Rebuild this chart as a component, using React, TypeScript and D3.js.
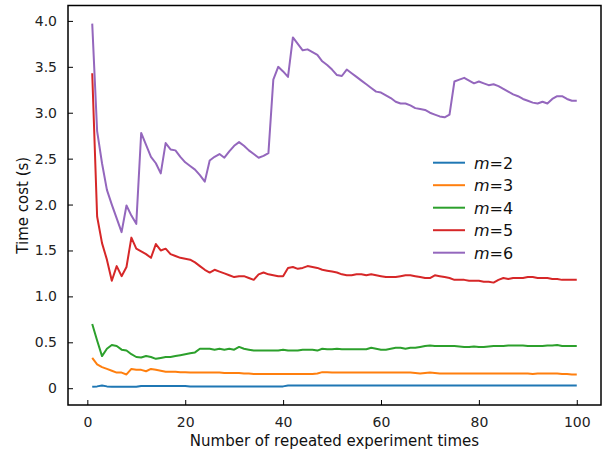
import React, { useRef, useEffect } from "react";
import * as d3 from "d3";

// repeated experiment index 1..100
const runs = d3.range(1, 101);

const m2 = [
  0.015, 0.02, 0.03, 0.02, 0.015, 0.015, 0.015, 0.015, 0.015, 0.015,
  0.025, 0.025, 0.025, 0.025, 0.025, 0.025, 0.025, 0.025, 0.025, 0.025,
  0.02, 0.02, 0.02, 0.02, 0.02, 0.02, 0.02, 0.02, 0.02, 0.02,
  0.02, 0.02, 0.02, 0.02, 0.02, 0.02, 0.02, 0.02, 0.02, 0.02,
  0.03, 0.03, 0.03, 0.03, 0.03, 0.03, 0.03, 0.03, 0.03, 0.03,
  0.03, 0.03, 0.03, 0.03, 0.03, 0.03, 0.03, 0.03, 0.03, 0.03,
  0.03, 0.03, 0.03, 0.03, 0.03, 0.03, 0.03, 0.03, 0.03, 0.03,
  0.03, 0.03, 0.03, 0.03, 0.03, 0.03, 0.03, 0.03, 0.03, 0.03,
  0.03, 0.03, 0.03, 0.03, 0.03, 0.03, 0.03, 0.03, 0.03, 0.03,
  0.03, 0.03, 0.03, 0.03, 0.03, 0.03, 0.03, 0.03, 0.03, 0.03,
];

const m3 = [
  0.33, 0.26, 0.23, 0.21, 0.19, 0.17, 0.17, 0.15, 0.21, 0.2,
  0.2, 0.185, 0.21, 0.2, 0.19, 0.18, 0.18, 0.18, 0.175, 0.175,
  0.17, 0.17, 0.17, 0.17, 0.17, 0.17, 0.17, 0.165, 0.165, 0.165,
  0.165, 0.16, 0.16, 0.155, 0.155, 0.155, 0.155, 0.155, 0.155, 0.155,
  0.155, 0.155, 0.155, 0.155, 0.155, 0.155, 0.16, 0.175, 0.175, 0.17,
  0.17, 0.17, 0.17, 0.17, 0.17, 0.17, 0.17, 0.17, 0.17, 0.17,
  0.17, 0.17, 0.17, 0.17, 0.17, 0.17, 0.165, 0.16, 0.165, 0.17,
  0.165, 0.16, 0.16, 0.16, 0.16, 0.16, 0.16, 0.16, 0.16, 0.16,
  0.16, 0.16, 0.16, 0.16, 0.16, 0.16, 0.16, 0.16, 0.16, 0.16,
  0.155, 0.16, 0.16, 0.16, 0.16, 0.16, 0.155, 0.155, 0.15, 0.15,
];

const m4 = [
  0.7, 0.52, 0.35, 0.43, 0.47, 0.46, 0.42, 0.41, 0.37, 0.34,
  0.335, 0.35, 0.34, 0.32, 0.33, 0.34, 0.34, 0.35, 0.36, 0.37,
  0.38, 0.39, 0.43, 0.43, 0.43, 0.42, 0.43, 0.42, 0.43, 0.42,
  0.45, 0.43, 0.42, 0.41, 0.41, 0.41, 0.41, 0.41, 0.41, 0.42,
  0.41, 0.41, 0.41, 0.42, 0.42, 0.42, 0.41, 0.43, 0.425, 0.425,
  0.43, 0.425, 0.425, 0.425, 0.425, 0.425, 0.425, 0.44, 0.43, 0.42,
  0.42, 0.43, 0.44, 0.44, 0.43, 0.44, 0.44, 0.45, 0.46, 0.465,
  0.46, 0.46, 0.46, 0.46, 0.46, 0.455, 0.45, 0.45, 0.455, 0.45,
  0.45, 0.455, 0.46, 0.46, 0.46, 0.465, 0.465, 0.465, 0.465, 0.46,
  0.46, 0.46, 0.46, 0.465, 0.465, 0.47, 0.46, 0.46, 0.46, 0.46,
];

const m5 = [
  3.43, 1.87, 1.58, 1.4, 1.17, 1.33, 1.22, 1.32, 1.64, 1.52,
  1.49, 1.46, 1.42, 1.57, 1.5, 1.52, 1.46, 1.44, 1.42, 1.41,
  1.4, 1.37, 1.33, 1.29, 1.26, 1.29, 1.27, 1.25, 1.23, 1.21,
  1.22, 1.22, 1.2, 1.18, 1.24, 1.26, 1.24, 1.23, 1.22, 1.22,
  1.31, 1.32, 1.3, 1.31, 1.33, 1.32, 1.31, 1.29, 1.28, 1.27,
  1.26, 1.24, 1.23, 1.23, 1.24, 1.24, 1.23, 1.24, 1.23, 1.22,
  1.21, 1.21, 1.21, 1.22, 1.23, 1.23, 1.22, 1.21, 1.2, 1.2,
  1.23, 1.22, 1.21, 1.2, 1.18, 1.18, 1.18, 1.17, 1.17, 1.17,
  1.16, 1.16, 1.15, 1.18, 1.2, 1.19, 1.2, 1.2, 1.2, 1.21,
  1.21, 1.2, 1.2, 1.2, 1.19, 1.19, 1.18, 1.18, 1.18, 1.18,
];

const m6 = [
  3.97, 2.8, 2.45, 2.16, 2.0, 1.85, 1.7, 1.99, 1.88, 1.79,
  2.78, 2.65, 2.52, 2.45, 2.34, 2.67, 2.6, 2.59, 2.52, 2.46,
  2.42, 2.38, 2.32, 2.25, 2.48, 2.52, 2.55, 2.51, 2.58, 2.64,
  2.68, 2.64, 2.59, 2.55, 2.51, 2.53, 2.56, 3.36, 3.5, 3.45,
  3.39, 3.82, 3.75, 3.68, 3.69, 3.66, 3.63, 3.56, 3.52, 3.47,
  3.41, 3.4, 3.47, 3.43, 3.39, 3.35, 3.31, 3.27, 3.23, 3.22,
  3.19, 3.16, 3.12, 3.1, 3.1, 3.08, 3.05, 3.04, 3.03, 3.0,
  2.98, 2.96, 2.95, 2.98, 3.34, 3.36, 3.38, 3.35, 3.32, 3.34,
  3.32, 3.3, 3.31, 3.29, 3.26, 3.23, 3.2, 3.18, 3.15, 3.13,
  3.11, 3.1, 3.12, 3.1, 3.15, 3.18, 3.18, 3.15, 3.13, 3.13,
];

const seriesNames = ["2", "3", "4", "5", "6"];
const seriesValues = [m2, m3, m4, m5, m6];
const colors = ["#1f77b4", "#ff7f0e", "#2ca02c", "#d62728", "#9467bd"];

const xTicks = [0, 20, 40, 60, 80, 100];
const yTicks = [0, 0.5, 1, 1.5, 2, 2.5, 3, 3.5, 4];

const W = 607;
const H = 454;
const margin = { top: 5.5, right: 6, bottom: 49, left: 68 };
const FONT = "'DejaVu Sans', sans-serif";

const App = () => {
  const ref = useRef(null);

  useEffect(() => {
    const svg = d3.select(ref.current);
    svg.selectAll("*").remove();

    const width = W - margin.left - margin.right;
    const height = H - margin.top - margin.bottom;

    const allVals = seriesValues.flat();
    const yMin = d3.min(allVals);
    const yMax = d3.max(allVals);
    const yPad = (yMax - yMin) * 0.05;
    const xPad = (100 - 1) * 0.05;

    const x = d3.scaleLinear().domain([1 - xPad, 100 + xPad]).range([0, width]);
    const y = d3.scaleLinear().domain([yMin - yPad, yMax + yPad]).range([height, 0]);

    const g = svg
      .append("g")
      .attr("transform", `translate(${margin.left},${margin.top})`);

    const line = d3
      .line()
      .x((d, i) => x(runs[i]))
      .y((d) => y(d));

    seriesValues.forEach((vals, k) => {
      g.append("path")
        .datum(vals)
        .attr("fill", "none")
        .attr("stroke", colors[k])
        .attr("stroke-width", 2)
        .attr("stroke-linejoin", "round")
        .attr("d", line);
    });

    // axes with inward ticks
    const xAxis = g
      .append("g")
      .attr("transform", `translate(0,${height})`)
      .call(d3.axisBottom(x).tickValues(xTicks).tickSize(-5).tickPadding(12).tickFormat(d3.format("d")));
    const yAxis = g
      .append("g")
      .call(
        d3
          .axisLeft(y)
          .tickValues(yTicks)
          .tickSize(-5)
          .tickPadding(11)
          .tickFormat((d) => (d === 0 ? "0" : d3.format(".1f")(d)))
      );
    [xAxis, yAxis].forEach((a) => {
      a.select(".domain").remove();
      a.selectAll(".tick line").attr("stroke", "#000").attr("stroke-width", 1);
      a.selectAll(".tick text")
        .attr("fill", "#222")
        .style("font-family", FONT)
        .style("font-size", "14px");
    });

    // frame
    g.append("rect")
      .attr("width", width)
      .attr("height", height)
      .attr("fill", "none")
      .attr("stroke", "#000")
      .attr("stroke-width", 1.5);

    // axis labels
    svg
      .append("text")
      .attr("x", margin.left + width / 2)
      .attr("y", 446)
      .attr("text-anchor", "middle")
      .style("font-family", FONT)
      .style("font-size", "15px")
      .attr("fill", "#111")
      .text("Number of repeated experiment times");

    svg
      .append("text")
      .attr("transform", "rotate(-90)")
      .attr("x", -(margin.top + height / 2))
      .attr("y", 28)
      .attr("text-anchor", "middle")
      .style("font-family", FONT)
      .style("font-size", "15px")
      .attr("fill", "#111")
      .text("Time cost (s)");

    // legend
    const legend = svg.append("g").attr("transform", "translate(433,162.7)");
    seriesNames.forEach((name, k) => {
      const row = legend.append("g").attr("transform", `translate(0,${k * 22.5})`);
      row.append("line")
        .attr("x1", 0)
        .attr("x2", 32)
        .attr("stroke", colors[k])
        .attr("stroke-width", 2);
      const t = row
        .append("text")
        .attr("x", 41)
        .attr("y", 6)
        .style("font-family", FONT)
        .style("font-size", "16px")
        .attr("fill", "#111");
      t.append("tspan").style("font-style", "italic").text("m");
      t.append("tspan").text("=" + name);
    });
  }, []);

  return (
    <svg
      ref={ref}
      width={W}
      height={H}
      style={{ position: "absolute", left: 0, top: 0, background: "#fff" }}
    ></svg>
  );
};

export default App;
